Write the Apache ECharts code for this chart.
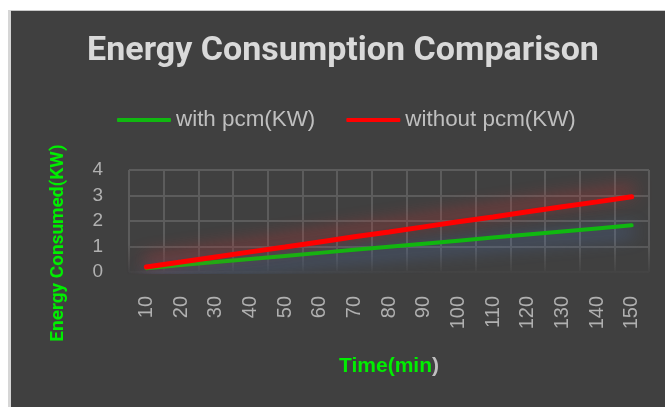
<!DOCTYPE html>
<html>
<head>
<meta charset="utf-8">
<script src="https://cdn.jsdelivr.net/npm/echarts@6/dist/echarts.min.js"></script>
<style>
html,body{margin:0;padding:0;background:#fff;}
#c{width:665px;height:407px;}
</style>
</head>
<body>
<div id="c"></div>
<script>
const categories = ['10','20','30','40','50','60','70','80','90','100','110','120','130','140','150'];
const withPcm = [0.15,0.27,0.39,0.51,0.63,0.75,0.87,0.99,1.11,1.23,1.35,1.47,1.59,1.71,1.83];
const withoutPcm = [0.2,0.39,0.59,0.79,0.98,1.18,1.38,1.57,1.77,1.97,2.16,2.36,2.56,2.75,2.95];
const yTicks = [0,1,2,3,4];

const ROBOTO = "Roboto,'Liberation Sans',sans-serif";
const SANS = "'Liberation Sans',Arial,sans-serif";

const chart = echarts.init(document.getElementById('c'));
chart.setOption({
  backgroundColor: '#404040',
  animation: false,
  title: {
    text: 'Energy Consumption Comparison',
    left: 338,
    textAlign: 'center',
    top: 29,
    textStyle: { color: '#d9d9d9', fontFamily: ROBOTO, fontWeight: 'bold', fontSize: 34 }
  },
  legend: {
    left: 112,
    top: 104,
    itemWidth: 54,
    itemHeight: 4,
    itemGap: 31,
    icon: 'roundRect',
    textStyle: { color: '#bfbfbf', fontFamily: SANS, fontSize: 22.4 },
    data: ['with pcm(KW)', 'without pcm(KW)']
  },
  grid: { left: 129, right: 16, top: 170, bottom: 135, containLabel: false },
  xAxis: {
    type: 'category',
    data: categories,
    boundaryGap: true,
    name: '{g|Time(min}{w|)}',
    nameLocation: 'middle',
    nameGap: 84,
    nameTextStyle: {
      rich: {
        g: { color: '#00ee00', fontFamily: SANS, fontWeight: 'bold', fontSize: 21 },
        w: { color: '#bfbfbf', fontFamily: SANS, fontWeight: 'bold', fontSize: 21 }
      }
    },
    axisLine: { show: false },
    axisTick: { show: false },
    axisLabel: { rotate: 90, margin: 24, color: '#b0b0b0', fontFamily: SANS, fontSize: 20 },
    splitLine: { show: true, interval: 0, lineStyle: { color: '#5c5c5c', width: 2 } }
  },
  yAxis: {
    type: 'value',
    min: yTicks[0],
    max: yTicks[yTicks.length - 1],
    interval: 1,
    name: 'Energy Consumed(KW)',
    nameLocation: 'middle',
    nameGap: 61,
    nameTextStyle: { color: '#00ee00', fontFamily: ROBOTO, fontWeight: 'bold', fontSize: 19, padding: [0, 44, 0, 0] },
    axisLine: { show: false },
    axisTick: { show: false },
    axisLabel: { margin: 26, color: '#b0b0b0', fontFamily: SANS, fontSize: 19 },
    splitLine: { show: true, lineStyle: { color: '#5c5c5c', width: 2 } }
  },
  series: [
    {
      name: 'with pcm(KW)',
      type: 'line',
      data: withPcm,
      showSymbol: false,
      symbol: 'none',
      z: 3,
      itemStyle: { color: '#10b810' },
      lineStyle: { color: '#10b810', width: 4, cap: 'round', shadowBlur: 18, shadowColor: 'rgba(80,120,190,1)', shadowOffsetY: 6 }
    },
    {
      name: 'without pcm(KW)',
      type: 'line',
      data: withoutPcm,
      showSymbol: false,
      symbol: 'none',
      z: 4,
      itemStyle: { color: '#ff0000' },
      lineStyle: { color: '#ff0000', width: 5, cap: 'round', shadowBlur: 18, shadowColor: 'rgba(200,50,50,1)', shadowOffsetY: -6 }
    }
  ],
  graphic: [
    {
      type: 'rect', z: 1, silent: true,
      shape: { x: 128, y: 244, width: 524, height: 32 },
      style: { fill: new echarts.graphic.LinearGradient(0, 0, 0, 1, [
        { offset: 0, color: 'rgba(64,64,64,0)' },
        { offset: 1, color: 'rgba(64,64,64,1)' }
      ]) }
    },
    { type: 'rect', z: 100, silent: true, shape: { x: 0, y: 0, width: 665, height: 10 }, style: { fill: '#ffffff' } },
    { type: 'rect', z: 100, silent: true, shape: { x: 0, y: 10, width: 665, height: 1 }, style: { fill: '#c8c8c8' } },
    { type: 'rect', z: 100, silent: true, shape: { x: 0, y: 0, width: 8, height: 407 }, style: { fill: '#ffffff' } },
    { type: 'rect', z: 100, silent: true, shape: { x: 8, y: 10, width: 3, height: 397 }, style: { fill: '#d6d6d6' } }
  ]
});
</script>
</body>
</html>
